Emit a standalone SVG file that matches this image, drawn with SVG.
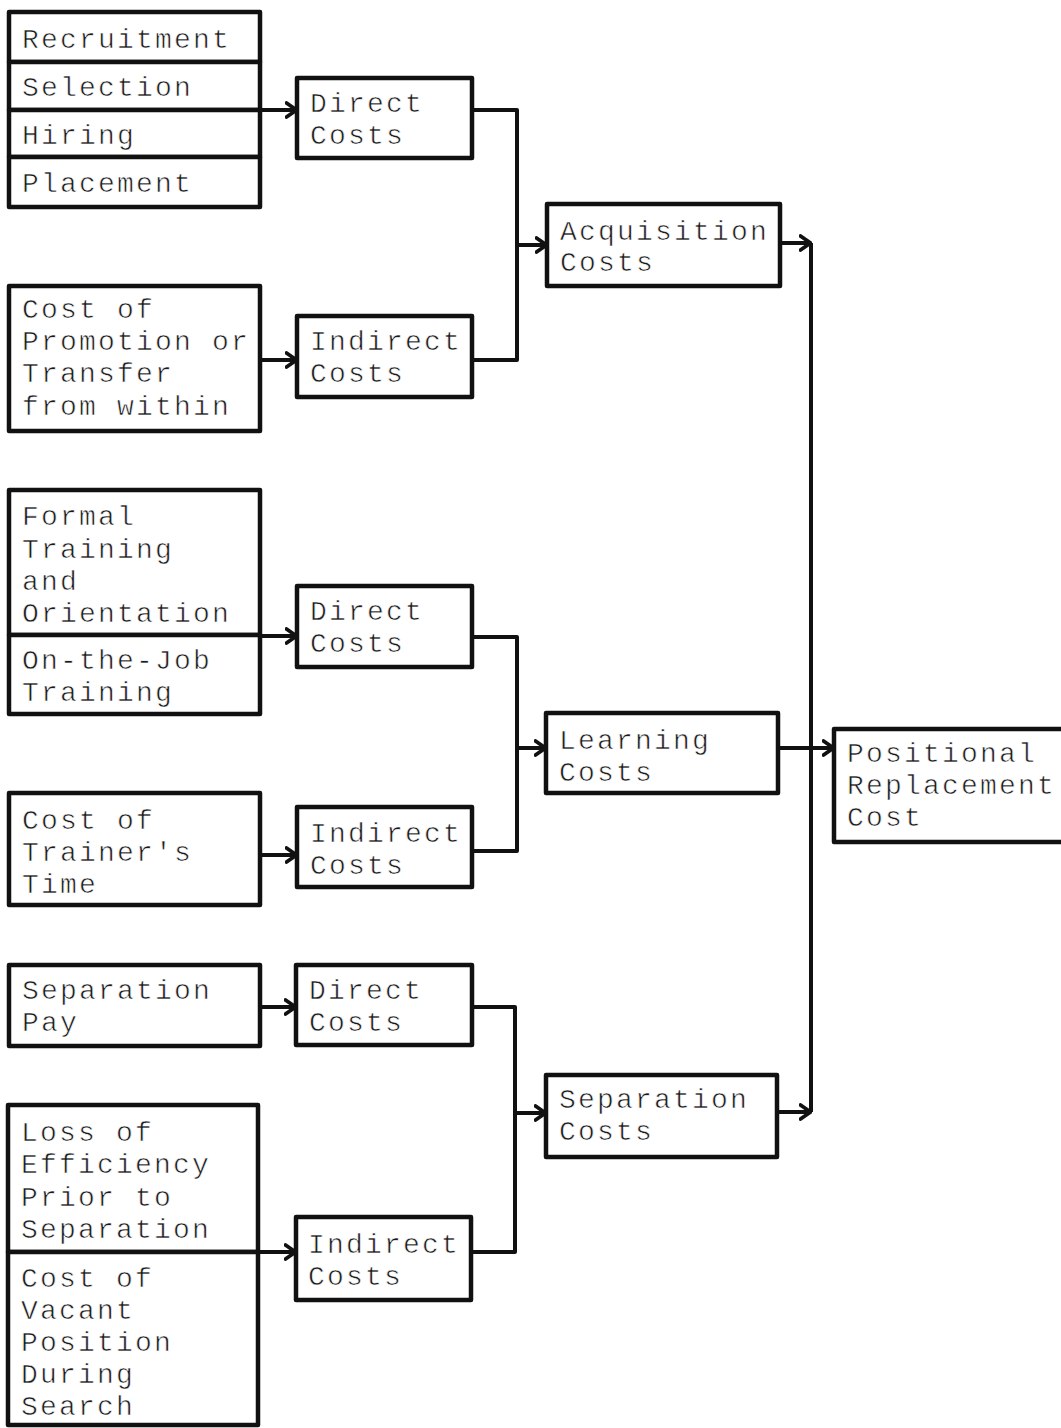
<svg xmlns="http://www.w3.org/2000/svg" width="1061" height="1428" viewBox="0 0 1061 1428">
<style>
.box{fill:#fff;stroke:#111;stroke-width:4.5;stroke-linejoin:round}
.t{font-family:"Liberation Mono","DejaVu Sans Mono",monospace;font-size:28px;letter-spacing:2.2px;fill:#1a1a1a;stroke:#fff;stroke-width:0.6px}
.c{fill:none;stroke:#111;stroke-width:4;stroke-linejoin:round}
.a{fill:none;stroke:#111;stroke-width:4;marker-end:url(#arr)}
</style>
<defs>
<marker id="arr" markerUnits="userSpaceOnUse" viewBox="0 0 13 18" refX="12" refY="9" markerWidth="13" markerHeight="18" orient="auto">
<path d="M1.5,2 L11.5,9 L1.5,16" fill="none" stroke="#111" stroke-width="3.8" stroke-linejoin="miter" stroke-linecap="round"/>
</marker>
</defs>
<rect width="1061" height="1428" fill="#fff"/>

<!-- Acquisition -->
<g id="recruitment"><rect class="box" x="9" y="12" width="251" height="50"/><text class="t" x="22" y="48">Recruitment</text></g>
<g id="selection"><rect class="box" x="9" y="62" width="251" height="48"/><text class="t" x="22" y="96">Selection</text></g>
<g id="hiring"><rect class="box" x="9" y="110" width="251" height="47"/><text class="t" x="22" y="144">Hiring</text></g>
<g id="placement"><rect class="box" x="9" y="157" width="251" height="50"/><text class="t" x="22" y="192">Placement</text></g>
<g id="direct1"><rect class="box" x="297" y="78" width="175" height="80"/><text class="t" x="310" y="112">Direct</text><text class="t" x="310" y="144">Costs</text></g>
<g id="promotion"><rect class="box" x="9" y="286" width="251" height="145"/><text class="t" x="22" y="318">Cost of</text><text class="t" x="22" y="350">Promotion or</text><text class="t" x="22" y="382">Transfer</text><text class="t" x="22" y="415">from within</text></g>
<g id="indirect1"><rect class="box" x="297" y="316" width="175" height="81"/><text class="t" x="310" y="350">Indirect</text><text class="t" x="310" y="382">Costs</text></g>
<g id="acquisition"><rect class="box" x="547" y="204" width="233" height="82"/><text class="t" x="560" y="240">Acquisition</text><text class="t" x="560" y="271">Costs</text></g>

<!-- Learning -->
<g id="formal"><rect class="box" x="9" y="490" width="251" height="145"/><text class="t" x="22" y="525">Formal</text><text class="t" x="22" y="558">Training</text><text class="t" x="22" y="590">and</text><text class="t" x="22" y="622">Orientation</text></g>
<g id="onjob"><rect class="box" x="9" y="635" width="251" height="79"/><text class="t" x="22" y="669">On-the-Job</text><text class="t" x="22" y="701">Training</text></g>
<g id="direct2"><rect class="box" x="297" y="586" width="175" height="81"/><text class="t" x="310" y="620">Direct</text><text class="t" x="310" y="652">Costs</text></g>
<g id="trainer"><rect class="box" x="9" y="793" width="251" height="112"/><text class="t" x="22" y="829">Cost of</text><text class="t" x="22" y="861">Trainer's</text><text class="t" x="22" y="893">Time</text></g>
<g id="indirect2"><rect class="box" x="297" y="807" width="175" height="80"/><text class="t" x="310" y="842">Indirect</text><text class="t" x="310" y="874">Costs</text></g>
<g id="learning"><rect class="box" x="546" y="713" width="232" height="80"/><text class="t" x="559" y="749">Learning</text><text class="t" x="559" y="781">Costs</text></g>
<g id="positional"><rect class="box" x="834" y="729" width="240" height="113"/><text class="t" x="847" y="762">Positional</text><text class="t" x="847" y="794">Replacement</text><text class="t" x="847" y="826">Cost</text></g>

<!-- Separation -->
<g id="seppay"><rect class="box" x="9" y="965" width="251" height="81"/><text class="t" x="22" y="999">Separation</text><text class="t" x="22" y="1031">Pay</text></g>
<g id="direct3"><rect class="box" x="296" y="965" width="176" height="80"/><text class="t" x="309" y="999">Direct</text><text class="t" x="309" y="1031">Costs</text></g>
<g id="loss"><rect class="box" x="8" y="1105" width="250" height="147"/><text class="t" x="21" y="1141">Loss of</text><text class="t" x="21" y="1173">Efficiency</text><text class="t" x="21" y="1206">Prior to</text><text class="t" x="21" y="1238">Separation</text></g>
<g id="vacant"><rect class="box" x="8" y="1252" width="250" height="173"/><text class="t" x="21" y="1287">Cost of</text><text class="t" x="21" y="1319">Vacant</text><text class="t" x="21" y="1351">Position</text><text class="t" x="21" y="1383">During</text><text class="t" x="21" y="1415">Search</text></g>
<g id="indirect3"><rect class="box" x="296" y="1217" width="175" height="83"/><text class="t" x="308" y="1253">Indirect</text><text class="t" x="308" y="1285">Costs</text></g>
<g id="separation"><rect class="box" x="546" y="1075" width="231" height="82"/><text class="t" x="559" y="1108">Separation</text><text class="t" x="559" y="1140">Costs</text></g>

<g id="connectors">
<path class="a" d="M260,110 H297"/>
<path class="a" d="M260,360 H297"/>
<path class="c" d="M472,110 H517 V360 H472"/>
<path class="a" d="M517,245 H547"/>
<path class="a" d="M780,243 H811"/>
<path class="c" d="M811,243 V1112"/>

<path class="a" d="M260,636 H297"/>
<path class="a" d="M260,855 H297"/>
<path class="c" d="M472,637 H517 V851 H472"/>
<path class="a" d="M517,748 H546"/>
<path class="a" d="M778,748 H834"/>

<path class="a" d="M260,1007 H296"/>
<path class="a" d="M258,1252 H296"/>
<path class="c" d="M472,1007 H515 V1252 H471"/>
<path class="a" d="M515,1113 H546"/>
<path class="a" d="M777,1112 H811"/>
</g>
</svg>
